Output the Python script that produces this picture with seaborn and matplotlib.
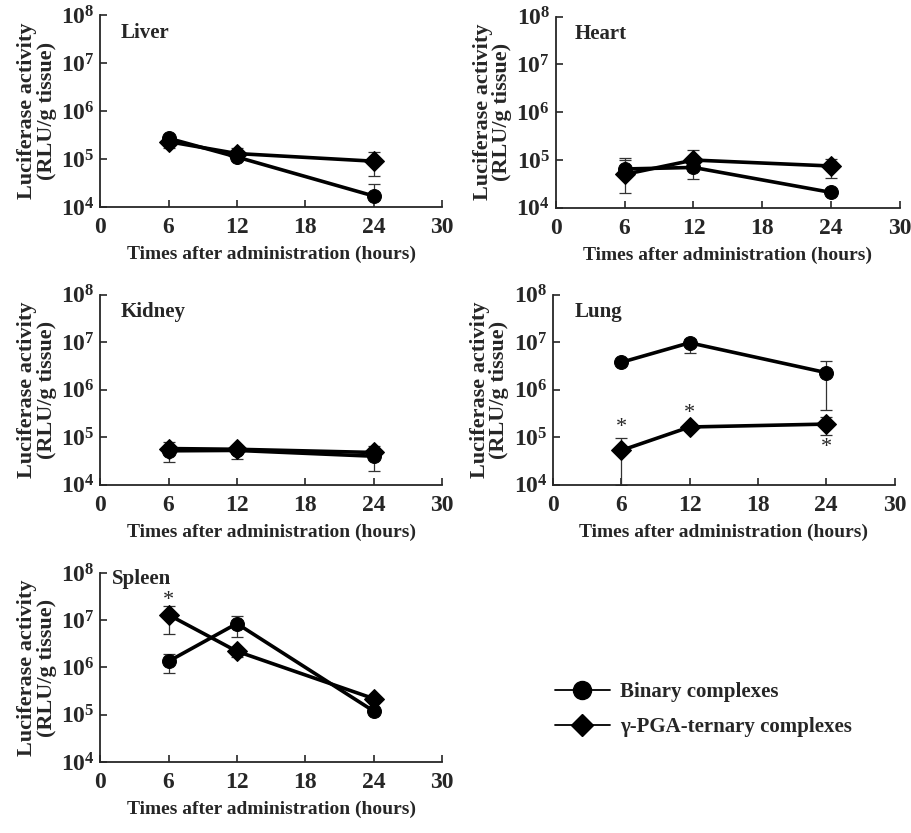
import numpy as np
import pandas as pd
import seaborn as sns
import matplotlib
matplotlib.use('Agg')
import matplotlib.pyplot as plt
from matplotlib.lines import Line2D
from matplotlib.ticker import LogLocator, NullFormatter

sns.set_style('ticks')
plt.rcParams['font.family'] = ['Liberation Serif', 'DejaVu Serif']
plt.rcParams['font.weight'] = 'bold'
plt.rcParams['mathtext.fontset'] = 'custom'
plt.rcParams['mathtext.rm'] = 'Liberation Serif:bold'
plt.rcParams['mathtext.default'] = 'rm'

# data
times = [6, 12, 24]
organs = ['Liver', 'Heart', 'Kidney', 'Lung', 'Spleen']

binary = {
    'Liver':  [2.7e5, 1.1e5, 1.7e4],
    'Heart':  [6.5e4, 7.0e4, 2.1e4],
    'Kidney': [5.2e4, 5.3e4, 4.0e4],
    'Lung':   [3.8e6, 9.8e6, 2.3e6],
    'Spleen': [1.35e6, 8.5e6, 1.2e5],
}
binary_lo = {
    'Liver':  [2.7e5, 1.1e5, 1.7e4],
    'Heart':  [6.5e4, 4.0e4, 2.1e4],
    'Kidney': [3.0e4, 3.5e4, 2.0e4],
    'Lung':   [3.8e6, 6.0e6, 3.8e5],
    'Spleen': [7.5e5, 4.5e6, 1.2e5],
}
binary_hi = {
    'Liver':  [2.7e5, 1.1e5, 3.0e4],
    'Heart':  [1.1e5, 7.0e4, 2.1e4],
    'Kidney': [8.0e4, 6.5e4, 6.5e4],
    'Lung':   [3.8e6, 1.2e7, 4.1e6],
    'Spleen': [1.9e6, 1.2e7, 1.2e5],
}

ternary = {
    'Liver':  [2.3e5, 1.3e5, 9.0e4],
    'Heart':  [5.0e4, 1.0e5, 7.5e4],
    'Kidney': [5.8e4, 5.6e4, 4.8e4],
    'Lung':   [5.3e4, 1.65e5, 1.9e5],
    'Spleen': [1.3e7, 2.2e6, 2.2e5],
}
ternary_lo = {
    'Liver':  [1.7e5, 1.3e5, 4.5e4],
    'Heart':  [2.0e4, 1.0e5, 4.3e4],
    'Kidney': [5.8e4, 5.6e4, 4.8e4],
    'Lung':   [1.0e4, 1.65e5, 1.1e5],
    'Spleen': [5.2e6, 1.7e6, 2.2e5],
}
ternary_hi = {
    'Liver':  [2.3e5, 1.7e5, 1.4e5],
    'Heart':  [1.0e5, 1.6e5, 1.07e5],
    'Kidney': [5.8e4, 5.6e4, 4.8e4],
    'Lung':   [9.5e4, 1.65e5, 2.7e5],
    'Spleen': [2.0e7, 2.2e6, 2.2e5],
}

# significance markers: (organ, x, y)
stars = [('Lung', 6, 1.6e5), ('Lung', 12, 3.2e5), ('Lung', 24, 6.0e4),
         ('Spleen', 6, 2.6e7)]

positions = {
    'Liver':  [0.110, 0.7515, 0.375, 0.2305],
    'Heart':  [0.610, 0.7505, 0.378, 0.2295],
    'Kidney': [0.110, 0.418, 0.375, 0.228],
    'Lung':   [0.607, 0.418, 0.375, 0.228],
    'Spleen': [0.110, 0.0852, 0.375, 0.227],
}
title_x = {'Liver': 0.06, 'Heart': 0.055, 'Kidney': 0.06, 'Lung': 0.062, 'Spleen': 0.035}
title_y = {'Liver': 0.96, 'Heart': 0.96, 'Kidney': 0.96, 'Lung': 0.96, 'Spleen': 1.02}

fig = plt.figure(figsize=(9.11, 8.33), dpi=100, facecolor='w')

for organ in organs:
    ax = fig.add_axes(positions[organ])
    df = pd.DataFrame({
        'time': times * 2,
        'value': binary[organ] + ternary[organ],
        'complex': ['Binary'] * 3 + ['Ternary'] * 3,
    })
    # error bars first so markers sit on top
    for vals, lo, hi in [(binary, binary_lo, binary_hi), (ternary, ternary_lo, ternary_hi)]:
        v = np.array(vals[organ])
        yerr = [v - np.array(lo[organ]), np.array(hi[organ]) - v]
        ax.errorbar(times, v, yerr=yerr, fmt='none', ecolor='#333333',
                    elinewidth=0.9, capsize=4, capthick=0.9, zorder=1)
    sns.lineplot(data=df, x='time', y='value', style='complex',
                 markers={'Binary': 'o', 'Ternary': 'D'},
                 dashes=False, color='black', linewidth=2.6,
                 markersize=10, markeredgecolor='black', legend=False,
                 ax=ax, zorder=3)
    ax.set_yscale('log')
    ax.set_ylim(1e4, 1e8)
    ax.set_xlim(0, 30)
    ax.set_xticks([0, 6, 12, 18, 24, 30])
    ax.set_yticks([1e4, 1e5, 1e6, 1e7, 1e8])
    ax.set_yticklabels([r'$10^{%d}$' % k for k in range(4, 9)])
    ax.yaxis.set_minor_locator(LogLocator(base=10, subs=np.arange(2, 10)))
    ax.yaxis.set_minor_formatter(NullFormatter())
    ax.tick_params(axis='both', which='major', direction='in', length=5,
                   width=1.2, labelsize=17)
    ax.tick_params(axis='x', which='major', pad=7)
    ax.tick_params(axis='y', which='major', pad=4)
    ax.tick_params(axis='y', which='minor', direction='in', length=2.5, width=0.8)
    for lab in ax.get_xticklabels():
        lab.set_fontweight('bold')
    for s in ['top', 'right']:
        ax.spines[s].set_visible(False)
    for s in ['left', 'bottom']:
        ax.spines[s].set_linewidth(1.3)
    ax.set_xlabel('Times after administration (hours)', fontsize=14,
                  fontweight='bold', labelpad=6)
    ax.set_ylabel('Luciferase activity\n(RLU/g tissue)', fontsize=16,
                  fontweight='bold', labelpad=3, linespacing=0.95)
    ax.text(title_x[organ], title_y[organ], organ, transform=ax.transAxes,
            fontsize=15, fontweight='bold', ha='left', va='top')

    for o, x, y in stars:
        if o == organ:
            ax.text(x, y, '*', ha='center', va='center', fontsize=16,
                    fontweight='normal')

# legend
handles = [
    Line2D([], [], color='black', lw=1.3, marker='o', markersize=13,
           markerfacecolor='black'),
    Line2D([], [], color='black', lw=1.3, marker='D', markersize=11,
           markerfacecolor='black'),
]
fig.legend(handles, ['Binary complexes', '\u03b3-PGA-ternary complexes'],
           loc='center left', bbox_to_anchor=(0.609, 0.148), frameon=False,
           handlelength=2.65, handletextpad=0.5, labelspacing=0.7,
           borderpad=0, borderaxespad=0,
           prop={'weight': 'bold', 'size': 15})

fig.savefig('out.png', dpi=100, facecolor='w')
